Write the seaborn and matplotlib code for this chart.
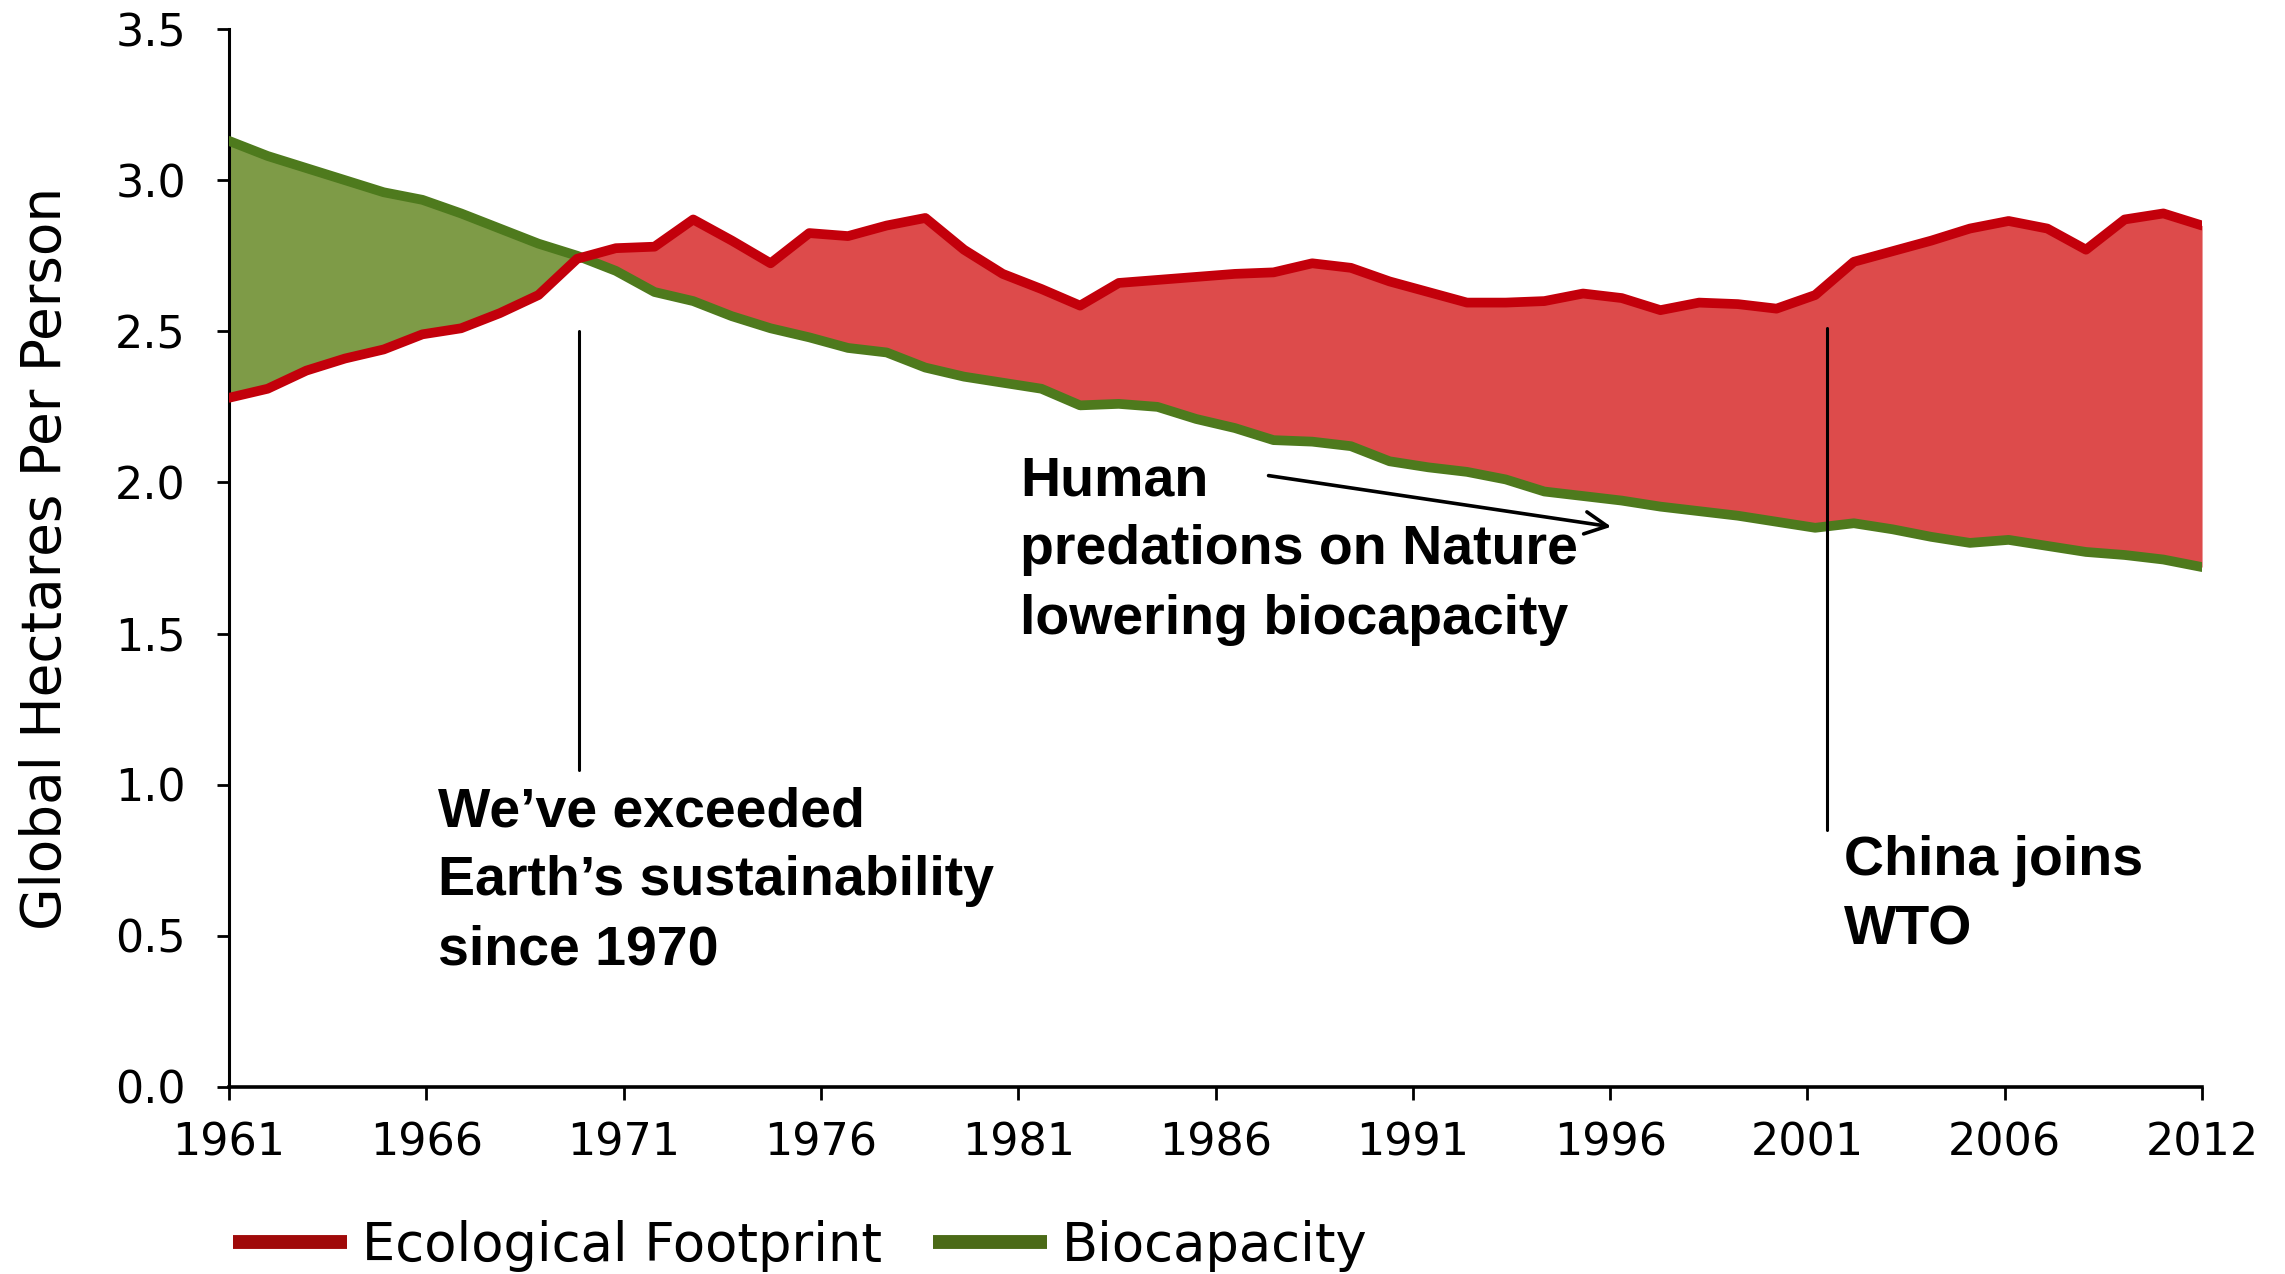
import numpy as np
import matplotlib
matplotlib.use("Agg")
import matplotlib.pyplot as plt
import seaborn as sns
from matplotlib.lines import Line2D

# ---------------- data ----------------
years = list(range(1961, 2013))

footprint = [2.28, 2.31, 2.37, 2.41, 2.44, 2.49, 2.51, 2.56, 2.62, 2.74,
             2.775, 2.78, 2.87, 2.80, 2.725, 2.825, 2.815, 2.85, 2.875, 2.77,
             2.69, 2.64, 2.585, 2.66, 2.67, 2.68, 2.69, 2.695, 2.725, 2.71,
             2.665, 2.63, 2.595, 2.595, 2.60, 2.625, 2.61, 2.57, 2.595, 2.59,
             2.575, 2.62, 2.73, 2.765, 2.80, 2.84, 2.865, 2.84, 2.77, 2.87,
             2.89, 2.85]

biocapacity = [3.13, 3.08, 3.04, 3.00, 2.96, 2.935, 2.89, 2.84, 2.79, 2.75,
               2.70, 2.63, 2.60, 2.55, 2.51, 2.48, 2.445, 2.43, 2.38, 2.35,
               2.33, 2.31, 2.255, 2.26, 2.25, 2.21, 2.18, 2.14, 2.135, 2.12,
               2.07, 2.05, 2.035, 2.01, 1.97, 1.955, 1.94, 1.92, 1.905, 1.89,
               1.87, 1.85, 1.865, 1.845, 1.82, 1.80, 1.81, 1.79, 1.77, 1.76,
               1.745, 1.72]

series_names = ["Ecological Footprint", "Biocapacity"]
xtick_labels = ["1961", "1966", "1971", "1976", "1981", "1986",
                "1991", "1996", "2001", "2006", "2012"]
ytick_values = [0.0, 0.5, 1.0, 1.5, 2.0, 2.5, 3.0, 3.5]
ylabel_text = "Global Hectares Per Person"

note_1970 = "We\u2019ve exceeded\nEarth\u2019s sustainability\nsince 1970"
note_human = "Human\npredations on Nature\nlowering biocapacity"
note_china = "China joins\nWTO"

# ---------------- style ----------------
sns.set_style("ticks")
plt.rcParams["font.family"] = ["DejaVu Sans"]
plt.rcParams["text.color"] = "black"

red_line = "#C3000B"
red_fill = "#DD4B4B"
green_line = "#4E7A1D"
green_fill = "#7E9B47"
red_legend = "#A00A0A"
green_legend = "#4B6A17"

fig = plt.figure(figsize=(22.85, 12.74), dpi=100)
ax = fig.add_axes([0.1002, 0.1468, 0.8635, 0.8304])

yrs = np.array(years, dtype=float)
fp = np.array(footprint)
bc = np.array(biocapacity)

ax.fill_between(yrs, fp, bc, where=bc >= fp, interpolate=True,
                color=green_fill, lw=0, zorder=1)
ax.fill_between(yrs, fp, bc, where=fp >= bc, interpolate=True,
                color=red_fill, lw=0, zorder=1)

sns.lineplot(x=yrs, y=bc, color=green_line, lw=7, ax=ax, legend=False, zorder=3)
sns.lineplot(x=yrs, y=fp, color=red_line, lw=7, ax=ax, legend=False, zorder=4)

ax.set_xlim(1961, 2012)
ax.set_ylim(0, 3.5)

ax.set_xticks(np.linspace(1961, 2012, len(xtick_labels)))
ax.set_xticklabels(xtick_labels)
ax.set_yticks(ytick_values)
ax.set_yticklabels([f"{v:.1f}" for v in ytick_values])

for s in ["top", "right"]:
    ax.spines[s].set_visible(False)
ax.spines["left"].set_linewidth(2.2)
ax.spines["bottom"].set_linewidth(2.6)
ax.spines["left"].set_color("black")
ax.spines["bottom"].set_color("black")

ax.tick_params(axis="y", direction="out", length=9, width=2, pad=22,
               labelsize=32, colors="black")
ax.tick_params(axis="x", direction="out", length=9, width=2, pad=16,
               labelsize=32, colors="black")

ax.set_ylabel(ylabel_text, fontsize=39.5, color="black")
ax.yaxis.set_label_coords(-0.079, 0.5)

# ---------------- annotations ----------------
ann_font = dict(family=["Liberation Sans", "DejaVu Sans"], weight="bold",
                fontsize=40, color="black", linespacing=1.43)

ax.plot([1970.05, 1970.05], [2.50, 1.05], color="black", lw=2.2, zorder=5)
ax.text(1966.4, 0.68, note_1970, ha="left", va="center", **ann_font)

ax.text(1981.45, 1.775, note_human, ha="left", va="center", **ann_font)
ax.annotate("", xy=(1996.8, 1.852), xytext=(1987.8, 2.024),
            arrowprops=dict(arrowstyle="->", color="black", lw=2.6,
                            mutation_scale=40))

ax.plot([2002.3, 2002.3], [2.51, 0.85], color="black", lw=2.2, zorder=5)
ax.text(2002.75, 0.632, note_china, ha="left", va="center", **ann_font)

# ---------------- legend ----------------
handles = [Line2D([], [], color=red_legend, lw=10, solid_capstyle="butt"),
           Line2D([], [], color=green_legend, lw=10, solid_capstyle="butt")]
fig.legend(handles, series_names, loc="center left",
           bbox_to_anchor=(233 / 2285, 0.022), ncol=2, frameon=False,
           fontsize=38, handlelength=2.16, handletextpad=0.28,
           columnspacing=0.97, borderpad=0, borderaxespad=0)

fig.savefig("out.png", dpi=100, facecolor="white")
